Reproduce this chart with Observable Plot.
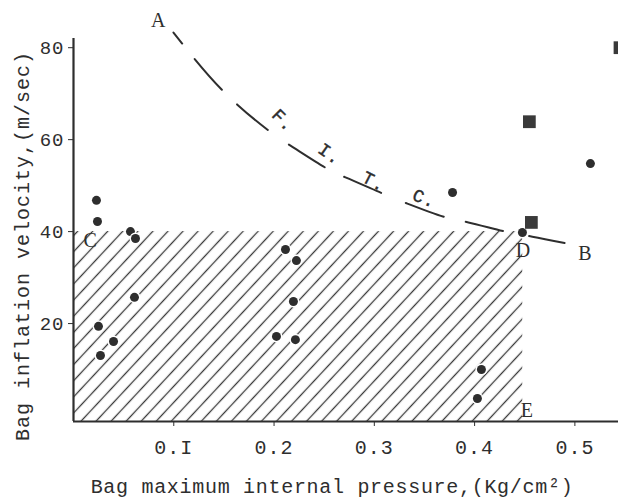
<!DOCTYPE html>
<html>
<head>
<meta charset="utf-8">
<script src="https://cdn.jsdelivr.net/npm/d3@7"></script>
<script src="https://cdn.jsdelivr.net/npm/@observablehq/plot@0.6"></script>
<style>
  html, body { margin: 0; padding: 0; background: #fff; }
</style>
</head>
<body>
<div id="chart"></div>
<script>
// ---- data ----
const circleX = [0.0229, 0.0239, 0.0568, 0.0618, 0.0608, 0.0249, 0.0399, 0.0269,
                 0.2114, 0.2223, 0.2193, 0.2024, 0.2213,
                 0.378, 0.5155, 0.4477, 0.4068, 0.4028];
const circleY = [46.8, 42.2, 40.0, 38.5, 25.7, 19.4, 16.1, 13.05,
                 36.1, 33.7, 24.8, 17.2, 16.5,
                 48.5, 54.8, 39.8, 10.0, 3.7];
const squareX = [0.4546, 0.4566, 0.545];
const squareY = [63.9, 42.0, 80.0];

const curveX = [0.0997, 0.1486, 0.1944, 0.2164, 0.2512, 0.2712, 0.3081, 0.333, 0.3709, 0.3938, 0.4307, 0.4576, 0.4925];
const curveY = [83.3, 70.7, 62.0, 58.7, 53.9, 51.8, 48.3, 46.1, 43.1, 42.0, 40.0, 38.9, 37.4];

const zoneX = [0, 0.448];   // hatched region extent
const zoneY = [-1.3, 40];

const letterText = ["A", "B", "C", "D", "E"];
const letterX = [0.085, 0.5105, 0.017, 0.4487, 0.4527];
const letterY = [85.9, 35.2, 38.1, 35.9, 1.1];

const fitcText = ["F.", "I.", "T.", "C."];
const fitcX = [0.2090, 0.2555, 0.2995, 0.350];
const fitcY = [64.2, 56.9, 50.9, 47.2];
const fitcAngle = [45, 35, 27, 22];

const xTicks = [0.1, 0.2, 0.3, 0.4, 0.5];
const xTickLabels = ["0.I", "0.2", "0.3", "0.4", "0.5"];
const yTicks = [20, 40, 60, 80];

const xTitle = "Bag maximum internal pressure,(Kg/cm²)";
const yTitle = "Bag inflation velocity,(m/sec)";

// ---- build tables ----
const circles = circleX.map((x, i) => ({x, y: circleY[i]}));
const squares = squareX.map((x, i) => ({x, y: squareY[i]}));
const curve = curveX.map((x, i) => ({x, y: curveY[i]}));
const letters = letterText.map((t, i) => ({t, x: letterX[i], y: letterY[i]}));
const fitc = fitcText.map((t, i) => ({t, x: fitcX[i], y: fitcY[i], a: fitcAngle[i]}));

const ink = "#2e2e2e";
const mono = "Liberation Mono, DejaVu Sans Mono, monospace";
const serif = "Liberation Serif, DejaVu Serif, serif";

const chart = Plot.plot({
  width: 618,
  height: 501,
  marginLeft: 73,
  marginRight: 0,
  marginTop: 38,
  marginBottom: 80,
  x: {domain: [0, 0.5435]},
  y: {domain: [-1.3, 82]},
  style: {background: "#fff", color: ink, fontFamily: mono, fontSize: "19px", overflow: "hidden", letterSpacing: "1px"},
  marks: [
    Plot.rect([{}], {x1: zoneX[0], x2: zoneX[1], y1: zoneY[0], y2: zoneY[1], fill: "url(#hatch)"}),
    Plot.line(curve, {x: "x", y: "y", curve: "natural", stroke: ink, strokeWidth: 2,
      strokeDasharray: "14,20,41,21,40,26,42,22,40,27,40,23,38,27,36,200"}),
    Plot.axisX({ticks: xTicks, tickFormat: (d) => xTickLabels[xTicks.indexOf(d)], tickSize: 5, tickPadding: 13,
      fontSize: 20, fontFamily: mono, label: null}),
    Plot.axisY({ticks: yTicks, tickSize: 5, tickPadding: 4, fontSize: 19, fontFamily: mono, label: null}),
    Plot.ruleX([0], {y1: -1.3, y2: 82, stroke: ink, strokeWidth: 2.2}),
    Plot.ruleY([-1.3], {x1: 0, x2: 0.5435, stroke: ink, strokeWidth: 2.2}),
    Plot.dot(circles, {x: "x", y: "y", r: 4.5, fill: ink, stroke: "#fff", strokeWidth: 3, paintOrder: "stroke"}),
    Plot.dot(squares, {x: "x", y: "y", symbol: "square", r: 7.2, fill: "#3a3a3a", stroke: "#fff", strokeWidth: 1, paintOrder: "stroke"}),
    Plot.text(letters, {x: "x", y: "y", text: "t", fontFamily: serif, fontSize: 20, fill: ink}),
    Plot.text(fitc, {x: "x", y: "y", text: "t", rotate: "a", fontFamily: mono, fontSize: 18, fill: ink, stroke: ink, strokeWidth: 0.4}),
    Plot.text([xTitle], {frameAnchor: "bottom", textAnchor: "middle", lineAnchor: "middle", dx: -14, dy: 65, fontFamily: mono, fontSize: 20, fill: ink}),
    Plot.text([yTitle], {frameAnchor: "left", textAnchor: "middle", lineAnchor: "middle", rotate: -90, dx: -51, dy: 16, fontFamily: mono, fontSize: 20, fill: ink})
  ]
});

// hatch pattern definition
const defs = d3.select(chart).insert("defs", ":first-child");
const pat = defs.append("pattern")
  .attr("id", "hatch")
  .attr("patternUnits", "userSpaceOnUse")
  .attr("width", 11)
  .attr("height", 11)
  .attr("patternTransform", "rotate(-47)");
pat.append("line")
  .attr("x1", 0).attr("y1", 5.5).attr("x2", 11).attr("y2", 5.5)
  .attr("stroke", "#3a3a3a").attr("stroke-width", 1.3);

// slightly tighter spacing for the x title
d3.select(chart).selectAll("text").filter(function () { return this.textContent === xTitle; })
  .attr("letter-spacing", "0.7px");

document.getElementById("chart").appendChild(chart);
</script>
</body>
</html>
